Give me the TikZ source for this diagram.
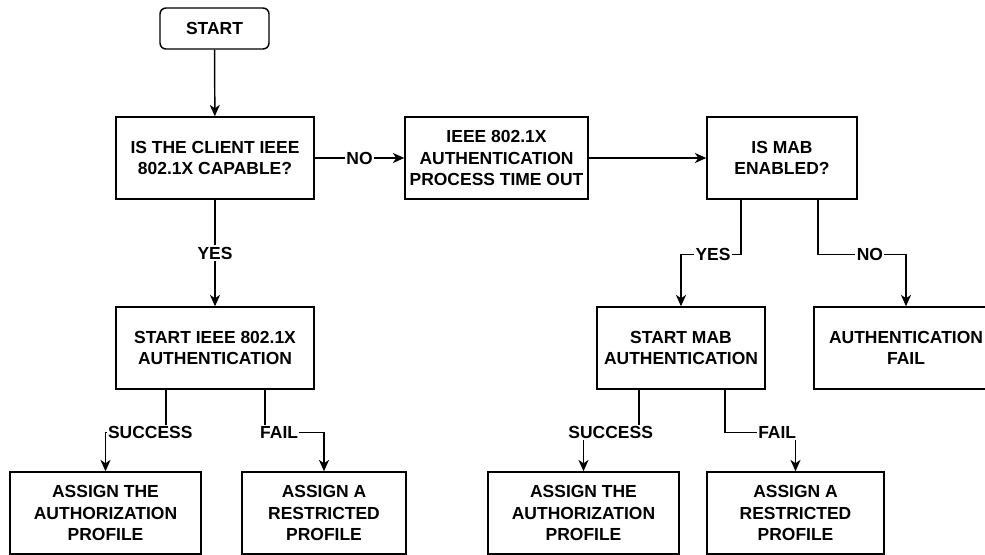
\documentclass[tikz,border=0pt]{standalone}
\usepackage{fontspec}
\setmainfont{Liberation Sans}
\usetikzlibrary{arrows.meta,calc}

\tikzset{
  every node/.style={font=\fontsize{13.1pt}{16.1pt}\selectfont\bfseries},
  stepbox/.style={draw=black, line width=1.1pt, fill=white, align=center,
    inner sep=0pt},
  termbox/.style={stepbox, rounded corners=4.5pt},
  boxsize/.style 2 args={minimum width={#1*0.75pt}, minimum height={#2*0.75pt}},
  lbl/.style={fill=white, inner sep=1pt,
    font=\fontsize{13.1pt}{16.1pt}\selectfont\bfseries},
  arr/.style={draw=black, line width=1.1pt,
    -{Stealth[length=8.5pt,width=7.5pt,inset=2.5pt]}},
}

\begin{document}
\begin{tikzpicture}[x=0.75pt,y=-0.75pt]
  \useasboundingbox (0,0) rectangle (985,554);

  % process steps
  \node[termbox, boxsize={109}{41}] (start) at (214.5,28.5) {START};
  \node[stepbox, boxsize={198}{82}] (client) at (215,158)
    {IS THE CLIENT IEEE\\802.1X CAPABLE?};
  \node[stepbox, boxsize={183}{82}] (timeout) at (496.5,158)
    {IEEE 802.1X\\AUTHENTICATION\\PROCESS TIME OUT};
  \node[stepbox, boxsize={150}{82}] (mab) at (782,158)
    {IS MAB\\ENABLED?};
  \node[stepbox, boxsize={198}{82}] (dot1x) at (215,348)
    {START IEEE 802.1X\\AUTHENTICATION};
  \node[stepbox, boxsize={168}{82}] (mabauth) at (681,348)
    {START MAB\\AUTHENTICATION};
  \node[stepbox, boxsize={184}{82}] (authfail) at (906,348)
    {AUTHENTICATION\\FAIL};

  % resulting profiles
  \node[stepbox, boxsize={191}{82}] (authz1) at (105.5,513)
    {ASSIGN THE\\AUTHORIZATION\\PROFILE};
  \node[stepbox, boxsize={164}{82}] (restr1) at (324,513)
    {ASSIGN A\\RESTRICTED\\PROFILE};
  \node[stepbox, boxsize={191}{82}] (authz2) at (583.5,513)
    {ASSIGN THE\\AUTHORIZATION\\PROFILE};
  \node[stepbox, boxsize={177}{82}] (restr2) at (795.5,513)
    {ASSIGN A\\RESTRICTED\\PROFILE};

  % connectors
  \draw[arr] (start) -- (client);
  \draw[arr] (client) -- node[lbl]{NO} (timeout);
  \draw[arr] (timeout) -- (mab);
  \draw[arr] (client) -- node[lbl]{YES} (dot1x);

  \draw[arr] ($(mab.south)+(-41,0)$) -- ++(0,55)
    -| node[lbl,pos=0.233]{YES} (mabauth.north);
  \draw[arr] ($(mab.south)+(36,0)$) -- ++(0,55)
    -| node[lbl,pos=0.295]{NO} (authfail.north);

  \draw[arr] ($(dot1x.south)+(-49,0)$) -- ++(0,43)
    -| node[lbl,pos=0.13]{SUCCESS} (authz1.north);
  \draw[arr] ($(dot1x.south)+(50,0)$) -- ++(0,43)
    -| node[lbl,pos=0.12]{FAIL} (restr1.north);

  \draw[arr] ($(mabauth.south)+(-42,0)$) -- ++(0,43)
    -| node[lbl,pos=0.255]{SUCCESS} (authz2.north);
  \draw[arr] ($(mabauth.south)+(44,0)$) -- ++(0,43)
    -| node[lbl,pos=0.37]{FAIL} (restr2.north);
\end{tikzpicture}
\end{document}
